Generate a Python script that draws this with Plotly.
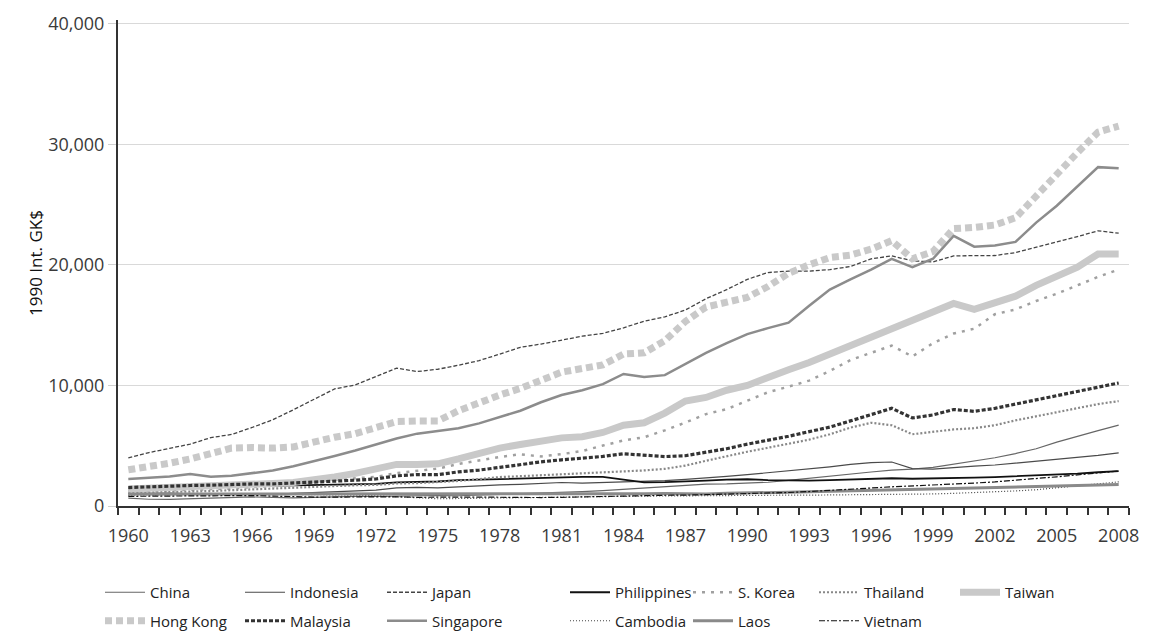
import plotly.graph_objects as go

years = list(range(1960, 2009))

china = [660, 560, 550, 590, 650, 710, 750, 710, 680, 720, 780, 800, 800, 840, 840, 870, 850, 900, 980, 1040,
         1060, 1090, 1190, 1280, 1400, 1520, 1600, 1710, 1820, 1830, 1870, 1970, 2130, 2310, 2520, 2650, 2820, 2970,
         3050, 3200, 3450, 3700, 4000, 4350, 4750, 5300, 5800, 6250, 6700]
indonesia = [1020, 1070, 1060, 1010, 1030, 990, 970, 960, 1040, 1100, 1180, 1230, 1320, 1500, 1550, 1500, 1600,
             1680, 1750, 1800, 1870, 1950, 1900, 1940, 2000, 2000, 2100, 2200, 2300, 2450, 2600, 2750, 2900, 3050,
             3250, 3450, 3600, 3650, 3100, 3050, 3200, 3300, 3400, 3550, 3700, 3850, 4000, 4200, 4400]
japan = [3990, 4430, 4780, 5130, 5670, 5930, 6510, 7150, 7980, 8870, 9710, 10040, 10730, 11430, 11150, 11340,
         11670, 12060, 12590, 13160, 13430, 13750, 14080, 14310, 14770, 15330, 15680, 16250, 17190, 17940, 18790,
         19360, 19480, 19480, 19600, 19860, 20490, 20740, 20330, 20240, 20740, 20760, 20770, 21010, 21450, 21870,
         22340, 22820, 22620]
philippines = [1480, 1520, 1540, 1600, 1600, 1630, 1640, 1670, 1700, 1730, 1760, 1800, 1840, 1960, 1990, 2030,
               2140, 2190, 2250, 2320, 2370, 2400, 2420, 2420, 2180, 1960, 1980, 2010, 2100, 2180, 2220, 2150, 2100,
               2110, 2150, 2180, 2250, 2300, 2260, 2270, 2340, 2350, 2400, 2460, 2540, 2600, 2680, 2800, 2900]
s_korea = [1230, 1250, 1270, 1330, 1400, 1440, 1570, 1640, 1820, 2060, 2170, 2320, 2420, 2720, 2930, 3100, 3480,
           3780, 4060, 4290, 4110, 4300, 4560, 5010, 5440, 5700, 6270, 6920, 7620, 8030, 8700, 9430, 9900, 10400,
           11200, 12100, 12700, 13300, 12400, 13500, 14300, 14700, 15900, 16300, 17000, 17600, 18300, 19000, 19600]
thailand = [1080, 1100, 1150, 1200, 1240, 1310, 1400, 1450, 1520, 1600, 1690, 1720, 1750, 1870, 1900, 1960, 2080,
            2230, 2400, 2470, 2550, 2620, 2680, 2750, 2850, 2950, 3080, 3350, 3750, 4150, 4500, 4830, 5150, 5500,
            5950, 6500, 6900, 6700, 5950, 6150, 6350, 6450, 6700, 7100, 7450, 7750, 8100, 8450, 8700]
taiwan = [1400, 1450, 1520, 1580, 1620, 1680, 1780, 1870, 1950, 2150, 2400, 2700, 3100, 3450, 3450, 3500, 3900,
          4350, 4800, 5100, 5400, 5650, 5750, 6100, 6700, 6900, 7700, 8700, 9000, 9600, 10000, 10700, 11300, 11900,
          12600, 13300, 13900, 14700, 15300, 16000, 16800, 16300, 16900, 17400, 18300, 19000, 19800, 20900, 20900]
hong_kong = [3000, 3250, 3550, 3900, 4300, 4800, 4850, 4800, 4900, 5350, 5700, 6000, 6450, 7000, 7050, 7050, 7900,
             8600, 9200, 9750, 10500, 11100, 11400, 11700, 12600, 12700, 13700, 15300, 16500, 16900, 17300, 18200,
             19300, 20000, 20600, 20800, 21300, 22000, 20500, 21100, 23000, 23100, 23300, 23900, 25600, 27500, 29300,
             31000, 31500]
malaysia = [1530, 1600, 1630, 1700, 1730, 1800, 1830, 1830, 1900, 1950, 2080, 2140, 2240, 2500, 2610, 2600, 2830,
            2980, 3200, 3440, 3660, 3830, 3980, 4110, 4330, 4200, 4100, 4170, 4450, 4750, 5130, 5450, 5780, 6170,
            6540, 7060, 7600, 8100, 7300, 7550, 8000, 7850, 8100, 8450, 8800, 9150, 9550, 9900, 10200]
singapore = [2240, 2350, 2450, 2650, 2430, 2500, 2700, 2950, 3300, 3700, 4150, 4600, 5100, 5600, 6000, 6250, 6450,
             6850, 7350, 7900, 8600, 9200, 9600, 10100, 10950, 10700, 10850, 11800, 12700, 13500, 14250, 14750,
             15200, 16600, 17950, 18800, 19600, 20500, 19800, 20500, 22400, 21500, 21600, 21900, 23500, 24900,
             26500, 28100, 28000]
cambodia = [900, 930, 960, 980, 990, 1000, 1000, 990, 970, 960, 950, 900, 850, 750, 650, 600, 620, 650, 680, 700,
            720, 740, 760, 780, 800, 820, 840, 850, 850, 860, 860, 880, 900, 900, 910, 920, 940, 950, 960, 1000,
            1050, 1100, 1150, 1250, 1350, 1500, 1650, 1800, 2000]
laos = [1000, 1000, 1000, 1000, 1000, 1000, 1010, 1010, 1010, 1000, 1000, 1000, 990, 990, 980, 970, 960, 960, 970,
        980, 1000, 1000, 1000, 1010, 1020, 1020, 1030, 1000, 1000, 1050, 1100, 1120, 1150, 1180, 1220, 1260, 1300,
        1340, 1370, 1400, 1430, 1460, 1500, 1540, 1580, 1620, 1670, 1720, 1780]
vietnam = [800, 820, 850, 860, 880, 900, 870, 820, 760, 740, 740, 760, 780, 760, 720, 700, 740, 740, 710, 700, 700,
           720, 760, 790, 840, 880, 890, 900, 940, 970, 1000, 1050, 1120, 1200, 1280, 1380, 1490, 1590, 1660, 1710,
           1800, 1900, 2000, 2120, 2260, 2420, 2580, 2760, 2900]

year_labels = list(range(1960, 2009, 3))

# name, values, colour, width, dash
series = [
    ("China", china, "#666666", 1.2, "solid"),
    ("Indonesia", indonesia, "#4a4a4a", 1.2, "solid"),
    ("Japan", japan, "#444444", 1.3, "4px,2px"),
    ("Philippines", philippines, "#111111", 1.8, "solid"),
    ("S. Korea", s_korea, "#a0a0a0", 2.5, "3px,6px"),
    ("Thailand", thailand, "#888888", 2.2, "2px,2px"),
    ("Taiwan", taiwan, "#c9c9c9", 7, "solid"),
    ("Hong Kong", hong_kong, "#c9c9c9", 7, "7px,4px"),
    ("Malaysia", malaysia, "#333333", 3.2, "4px,2px"),
    ("Singapore", singapore, "#8c8c8c", 2.5, "solid"),
    ("Cambodia", cambodia, "#444444", 1.2, "1px,2px"),
    ("Laos", laos, "#8a8a8a", 3, "solid"),
    ("Vietnam", vietnam, "#111111", 1.2, "6px,2px,2px,2px"),
]

# one legend per column: first row, then second row
legend_of = {
    "China": "legend", "Hong Kong": "legend",
    "Indonesia": "legend2", "Malaysia": "legend2",
    "Japan": "legend3", "Singapore": "legend3",
    "Philippines": "legend4", "Cambodia": "legend4",
    "S. Korea": "legend5", "Laos": "legend5",
    "Thailand": "legend6", "Vietnam": "legend6",
    "Taiwan": "legend7",
}
first_row = {"China", "Indonesia", "Japan", "Philippines", "S. Korea", "Thailand", "Taiwan"}
col_x = [100, 240, 382, 565, 688, 814, 955]

# plot area in pixels
L, R, T, B = 118, 24, 20, 126
W, H = 1153, 632
plot_w, plot_h = W - L - R, H - T - B

FONT = "Open Sans"
fig = go.Figure()
for name, vals, color, width, dash in series:
    fig.add_trace(go.Scatter(
        x=years, y=vals, name=name, mode="lines",
        line=dict(color=color, width=width, dash=dash),
        legend=legend_of[name], legendgroup=name,
        legendrank=1 if name in first_row else 2,
        hovertemplate=name + " %{x}: %{y:,}<extra></extra>",
    ))

legend_common = dict(
    orientation="v", yanchor="top", xanchor="left",
    font=dict(family=FONT, size=15, color="#222222"), itemwidth=40,
    tracegroupgap=6, traceorder="grouped",
    bgcolor="rgba(0,0,0,0)", borderwidth=0,
)
layout_legends = {}
for i, cx in enumerate(col_x):
    key = "legend" if i == 0 else f"legend{i + 1}"
    layout_legends[key] = dict(legend_common, x=(cx - L) / plot_w, y=(H - B - 576) / plot_h)

fig.update_layout(
    width=W, height=H,
    margin=dict(l=L, r=R, t=T, b=B, autoexpand=False),
    paper_bgcolor="white", plot_bgcolor="white",
    font=dict(family=FONT, color="#333333"),
    showlegend=True,
    xaxis=dict(
        range=[1959.5, 2008.5], tickmode="array", tickvals=year_labels,
        ticks="outside", ticklen=7, tickcolor="rgba(0,0,0,0)",
        minor=dict(tick0=1959.5, dtick=1, ticks="outside", ticklen=7,
                   tickcolor="#333333", tickwidth=1.5, showgrid=False),
        showgrid=False, zeroline=False, showline=True, linecolor="#333333", linewidth=2,
        tickfont=dict(family=FONT, size=18, color="#3a3a3a"), ticklabelstandoff=5,
    ),
    yaxis=dict(
        range=[0, 40300], tickmode="array", tickvals=[0, 10000, 20000, 30000, 40000], tickformat=",",
        ticks="outside", ticklen=8, tickcolor="#d0d0d0",
        showgrid=True, gridcolor="#d9d9d9", gridwidth=1, zeroline=False,
        showline=True, linecolor="#333333", linewidth=2,
        tickfont=dict(family=FONT, size=18, color="#3a3a3a"),
        title=dict(text="1990 Int. GK$", font=dict(family=FONT, size=17, color="#111111"), standoff=1),
    ),
    **layout_legends,
)

fig.write_html("out.html")
